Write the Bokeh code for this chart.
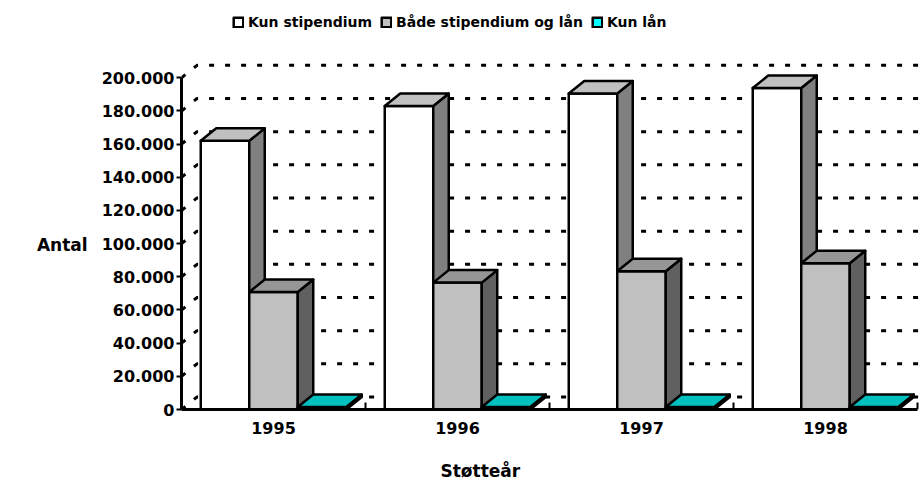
from bokeh.plotting import figure
from bokeh.models import Range1d, LinearAxis, FixedTicker, Legend, LegendItem, Title
from bokeh.embed import file_html
from bokeh.resources import INLINE

# ---- data ----
years = ["1995", "1996", "1997", "1998"]
series_names = ["Kun stipendium", "Både stipendium og lån", "Kun lån"]
kun_stipendium = [162000, 183000, 190500, 193800]
baade_stipendium_og_laan = [70800, 76500, 83400, 88200]
kun_laan = [1500, 1500, 1500, 1500]
y_ticks = list(range(0, 200001, 20000))
y_tick_labels = [f"{v:,}".replace(",", ".") for v in y_ticks]
y_title = "Antal"
x_title = "Støtteår"

# ---- styling / geometry ----
BORDER_L = 181
FRAME_W, FRAME_H = 739, 409
PX_PER_CAT = 184.0
PX_PER_UNIT = 331.7 / 200000
x0 = -0.5
x_end = x0 + FRAME_W / PX_PER_CAT
y_end = FRAME_H / PX_PER_UNIT
DX = 15.5 / PX_PER_CAT
DY = 12.5 / PX_PER_UNIT
BW = 48.5 / PX_PER_CAT
FONT = "DejaVu Sans"

front_cols = ["#FFFFFF", "#C0C0C0", "#00FFFF"]
top_cols = ["#C0C0C0", "#969696", "#00C0C0"]
side_cols = ["#808080", "#606060", "#008080"]

p = figure(frame_width=FRAME_W, frame_height=FRAME_H, output_backend="svg", toolbar_location=None,
           x_range=Range1d(x0, x_end), y_range=Range1d(0, y_end),
           x_axis_type=None, y_axis_type=None,
           min_border_left=BORDER_L, min_border_right=0,
           min_border_top=0, min_border_bottom=0)
p.outline_line_color = None
p.background_fill_color = "white"

# back-wall gridlines (dotted)
gx = [[x0, x0 + DX, x_end + 1] for v in y_ticks]
gy = [[v, v + DY, v + DY] for v in y_ticks]
p.multi_line(gx, gy, line_color="black", line_width=3, line_dash="5 11")

# category boundary ticks
bx = [i + 0.5 for i in range(len(years))]
p.segment(x0=bx, y0=[0] * len(bx), x1=bx, y1=[7 / PX_PER_UNIT] * len(bx),
          line_color="black", line_width=2)

series = [kun_stipendium, baade_stipendium_og_laan, kun_laan]
front_renderers = []
for s, vals in enumerate(series):
    xl = [i + (s - 1) * BW - BW / 2 for i in range(len(years))]
    xr = [a + BW for a in xl]
    side_xs = [[r, r, r + DX, r + DX] for r in xr]
    side_ys = [[0, v, v + DY, DY] for v in vals]
    top_xs = [[l, r, r + DX, l + DX] for l, r in zip(xl, xr)]
    top_ys = [[v, v, v + DY, v + DY] for v in vals]
    fr = p.quad(left=xl, right=xr, bottom=[0] * len(vals), top=vals,
                fill_color=front_cols[s], line_color="black", line_width=2.5,
                line_join="round")
    p.patches(side_xs, side_ys, fill_color=side_cols[s], line_color="black",
              line_width=2.5, line_join="round")
    p.patches(top_xs, top_ys, fill_color=top_cols[s], line_color="black",
              line_width=2.5, line_join="round")
    front_renderers.append(fr)

# axes
yaxis = LinearAxis(ticker=FixedTicker(ticks=y_ticks), bounds=(0, 200000),
                   major_label_overrides={v: t for v, t in zip(y_ticks, y_tick_labels)})
yaxis.axis_line_width = 3
yaxis.major_tick_line_width = 2
yaxis.major_tick_out = 5
yaxis.major_tick_in = 0
yaxis.minor_tick_out = 0
yaxis.minor_tick_in = 0
yaxis.major_label_standoff = 2
yaxis.major_label_text_font = FONT
yaxis.major_label_text_font_style = "bold"
yaxis.major_label_text_font_size = "16px"
yaxis.major_label_text_color = "black"
# blank leading lines push the (frame-centred) label down to the 100.000 level
yaxis.axis_label = "\n\n\n\n" + y_title
yaxis.axis_label_orientation = "horizontal"
yaxis.axis_label_standoff = 11
yaxis.axis_label_text_font = FONT
yaxis.axis_label_text_font_style = "bold"
yaxis.axis_label_text_font_size = "17px"
yaxis.axis_label_text_line_height = 1.0
yaxis.axis_label_text_color = "black"
p.add_layout(yaxis, "left")

xaxis = LinearAxis(ticker=FixedTicker(ticks=list(range(len(years)))), bounds=(-0.5, len(years) - 0.5),
                   major_label_overrides={i: y for i, y in enumerate(years)})
xaxis.axis_line_width = 3
xaxis.major_tick_out = 0
xaxis.major_tick_in = 0
xaxis.minor_tick_out = 0
xaxis.minor_tick_in = 0
xaxis.major_label_standoff = 12
xaxis.major_label_text_font = FONT
xaxis.major_label_text_font_style = "bold"
xaxis.major_label_text_font_size = "16px"
xaxis.major_label_text_color = "black"
p.add_layout(xaxis, "below")

p.add_layout(Title(text=x_title, align="left", offset=259, standoff=44,
                   text_font=FONT, text_font_style="bold", text_font_size="17px",
                   text_color="black"), "below")

# legend
legend = Legend(items=[LegendItem(label=n, renderers=[r]) for n, r in zip(series_names, front_renderers)],
                location=(51, FRAME_H - 30), orientation="horizontal",
                border_line_color=None, background_fill_alpha=0,
                padding=0, margin=0, spacing=8, label_standoff=4,
                glyph_width=12, glyph_height=12,
                label_text_font=FONT, label_text_font_style="bold",
                label_text_font_size="14px", label_text_color="black")
p.add_layout(legend)

open("out.html", "w").write(file_html(p, INLINE))
